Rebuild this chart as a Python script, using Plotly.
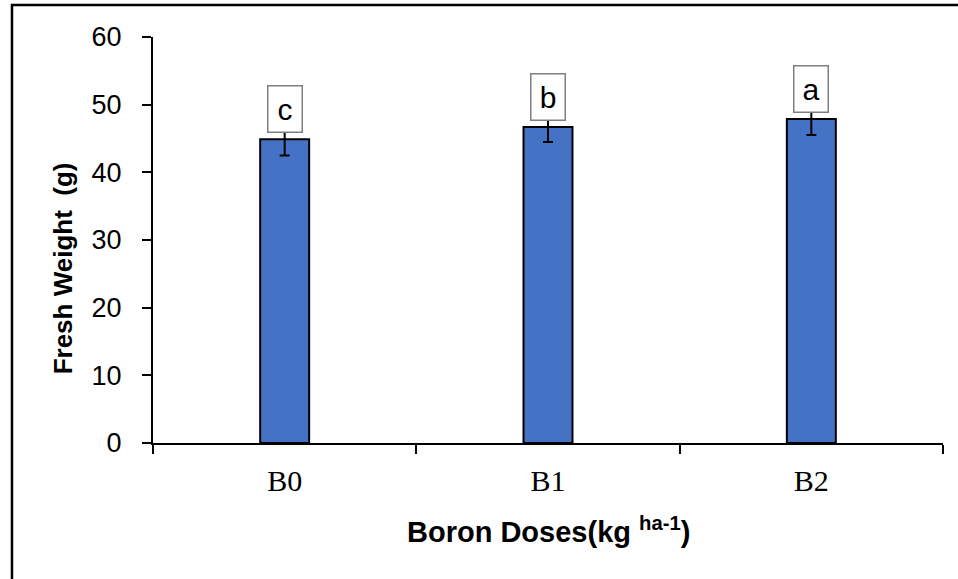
import plotly.graph_objects as go

categories = ["B0", "B1", "B2"]
fresh_weight = [44.9, 46.7, 47.9]
error_sd = [2.4, 2.2, 2.4]
letters = ["c", "b", "a"]

fig = go.Figure()
fig.add_trace(go.Bar(
    x=categories, y=fresh_weight, width=0.186,
    marker=dict(color="#4472C4", line=dict(color="black", width=2)),
    error_y=dict(type="data", array=error_sd, visible=True, color="black", thickness=2, width=5),
    showlegend=False,
))

for c, v, l in zip(categories, fresh_weight, letters):
    fig.add_annotation(x=c, y=v, text=l, showarrow=False, yanchor="bottom", yshift=6,
                       font=dict(family="Liberation Sans, Arial", size=30, color="black"),
                       bgcolor="white", bordercolor="#7f7f7f", borderwidth=1.5,
                       width=31, height=43)

fig.add_annotation(xref="paper", yref="paper", x=0.5, y=-0.215, yanchor="middle",
                   text="<b>Boron Doses(kg <sup>ha-1</sup>)</b>", showarrow=False,
                   font=dict(family="Liberation Sans, Arial", size=29, color="black"))
fig.add_annotation(xref="paper", yref="paper", x=-0.114, y=0.43, xanchor="center", yanchor="middle",
                   text="<b>Fresh Weight  (g)</b>", textangle=-90, showarrow=False,
                   font=dict(family="Liberation Sans, Arial", size=26, color="black"))

# outer frame
fig.add_shape(type="rect", xref="paper", yref="paper", x0=-0.1785, y0=-0.6, x1=1.2, y1=1.0788,
              line=dict(color="black", width=2.5), fillcolor="rgba(0,0,0,0)")

fig.update_xaxes(showline=True, linecolor="black", linewidth=2, ticks="outside", ticklen=9,
                 tickwidth=2, tickcolor="black", tickson="boundaries", ticklabelstandoff=10,
                 tickfont=dict(family="Liberation Serif, serif", size=30, color="black"),
                 showgrid=False, range=[-0.5, 2.5])
fig.update_yaxes(showline=True, linecolor="black", linewidth=2, ticks="outside", ticklen=9,
                 tickwidth=2, tickcolor="black", range=[0, 60], dtick=10, ticklabelstandoff=15,
                 tickfont=dict(family="Liberation Sans, Arial", size=27, color="black"),
                 showgrid=False, zeroline=False)

fig.update_layout(width=958, height=579, margin=dict(l=153, r=15, t=37, b=136),
                  paper_bgcolor="white", plot_bgcolor="white")

fig.write_html("out.html", config={"displayModeBar": False},
               post_script="document.body.style.margin='0';document.body.style.overflow='hidden';")
